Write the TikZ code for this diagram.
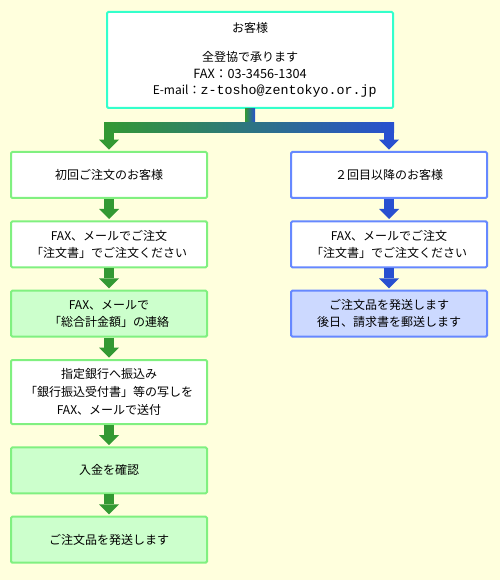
\documentclass[tikz,border=0pt]{standalone}
\usepackage{fontspec}
\setmainfont{Noto Sans CJK JP}
\newfontfamily\mailfont{Liberation Mono}
\usepackage{tikz}
\usetikzlibrary{arrows.meta, positioning}

\definecolor{bgcream}{HTML}{FFFFDD}
\definecolor{aqualine}{HTML}{33FFCC}
\definecolor{greenline}{HTML}{80F080}
\definecolor{greenfill}{HTML}{CCFFCC}
\definecolor{greenarrow}{HTML}{339933}
\definecolor{blueline}{HTML}{6688FF}
\definecolor{bluefill}{HTML}{CCD9FF}
\definecolor{bluearrow}{HTML}{2850D0}

\begin{document}
\begin{tikzpicture}[
    x=0.75pt, y=-0.75pt,
    node distance=16pt,
    font=\fontsize{9pt}{12.75pt}\selectfont,
    box/.style={rectangle, draw=greenline, line width=1.5pt, rounded corners=1pt, minimum width=147pt, minimum height=34.5pt, align=center, fill=white},
    bluebox/.style={box, draw=blueline},
    arrow/.style={line width=7.5pt, -{Triangle[width=15pt, length=7.5pt, line width=0pt]}, shorten >=1pt}
]

% Background
\fill[bgcream] (0,0) rectangle (500,580);
\useasboundingbox (0,0) rectangle (500,580);

% Contact
\node[box, draw=aqualine, minimum width=214.5pt, minimum height=72pt, font=\fontsize{9pt}{12.4pt}\selectfont] (order) at (250,60) {お客様\\[9.8pt]全登協で承ります\\\fontsize{9.5pt}{12.4pt}\selectfont FAX：03-3456-1304\\\hspace*{22pt}E-mail：{\mailfont\fontsize{10pt}{12.4pt}\selectfont z-tosho@zentokyo.or.jp}};

% First-time customers
\node[box] (firstcust) at (109,175) {初回ご注文のお客様};
\node[box, below=of firstcust] (firstorder) {FAX、メールでご注文\\「注文書」でご注文ください};
\node[box, below=of firstorder, fill=greenfill] (firsttotal) {FAX、メールで\\「総合計金額」の連絡};
\node[box, below=of firsttotal, minimum height=48pt, font=\fontsize{9pt}{13.5pt}\selectfont] (firstpay) {指定銀行へ振込み\\「銀行振込受付書」等の写しを\\FAX、メールで送付};
\node[box, below=of firstpay, fill=greenfill] (firstcheck) {入金を確認};
\node[box, below=of firstcheck, fill=greenfill] (firstship) {ご注文品を発送します};

% Repeat customers
\node[bluebox] (repeatcust) at (389,175) {２回目以降のお客様};
\node[bluebox, below=of repeatcust] (repeatorder) {FAX、メールでご注文\\「注文書」でご注文ください};
\node[bluebox, below=of repeatorder, fill=bluefill] (repeatship) {ご注文品を発送します\\後日、請求書を郵送します};

% Split
\coordinate (split) at ([yshift=-13.9pt]order.south);
\coordinate (splitL) at (split -| firstcust.north);
\coordinate (splitR) at (split -| repeatcust.north);
\draw[arrow, greenarrow] ([yshift=3.75pt]splitL) -- (firstcust.north);
\draw[arrow, bluearrow] ([yshift=3.75pt]splitR) -- (repeatcust.north);
\shade[left color=greenarrow, right color=bluearrow] ([xshift=-3.75pt]order.south) rectangle ([xshift=3.75pt]split);
\shade[left color=greenarrow, right color=bluearrow] ([shift={(-3.75pt,3.75pt)}]splitL) rectangle ([shift={(3.75pt,-3.75pt)}]splitR);

% Arrows
\draw[arrow, greenarrow] (firstcust) -- (firstorder);
\draw[arrow, greenarrow] (firstorder) -- (firsttotal);
\draw[arrow, greenarrow] (firsttotal) -- (firstpay);
\draw[arrow, greenarrow] (firstpay) -- (firstcheck);
\draw[arrow, greenarrow] (firstcheck) -- (firstship);
\draw[arrow, bluearrow] (repeatcust) -- (repeatorder);
\draw[arrow, bluearrow] (repeatorder) -- (repeatship);

\end{tikzpicture}
\end{document}
